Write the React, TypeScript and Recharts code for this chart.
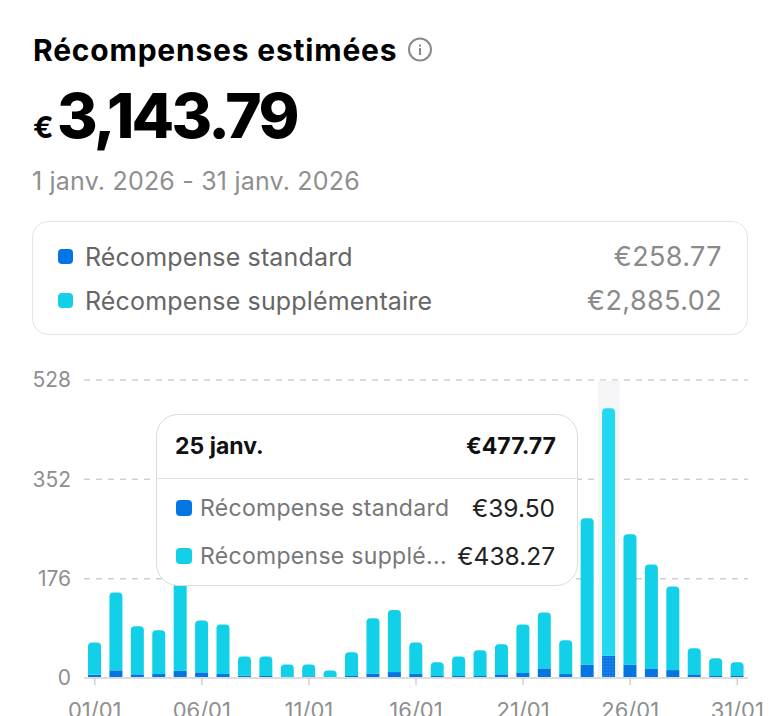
import React from "react";
import { BarChart, Bar, XAxis, YAxis, CartesianGrid, Tooltip, Cell } from "recharts";

const days = ["01/01","02/01","03/01","04/01","05/01","06/01","07/01","08/01","09/01","10/01","11/01","12/01","13/01","14/01","15/01","16/01","17/01","18/01","19/01","20/01","21/01","22/01","23/01","24/01","25/01","26/01","27/01","28/01","29/01","30/01","31/01"];
const standardValues = [6,13.6,6.5,7,13,10,7,4,3.5,0.5,3,0.5,3.5,8,10.5,7,3.5,3.5,3.5,6.5,9,17,7,23.6,39.5,23.6,17,14,6.5,3.5,3.5];
const extraValues = [57,138,85,77.5,167,92,88,34,34.5,23.5,21,13,42,98,110,56,24.5,34.5,45.5,53.5,86,99,60,259.4,438.27,231,184,148,46,31.5,24.5];
const xTicks = ["01/01","06/01","11/01","16/01","21/01","26/01","31/01"];
const yTicks = [0,176,352,528];
const standardName = "Récompense standard";
const extraName = "Récompense supplémentaire";
const extraShortName = "Récompense supplé...";
const standardTotal = "€258.77";
const extraTotal = "€2,885.02";
const ACTIVE = 24;

const data = days.map((day, i) => ({ day, standard: standardValues[i], extra: extraValues[i] }));
const FONT = "Inter, sans-serif";
const BLUE = "#0275E3";
const TEAL = "#11D0E8";

const abs = (left: number, top: number, extra: React.CSSProperties = {}): React.CSSProperties => ({
  position: "absolute", left, top, whiteSpace: "nowrap", ...extra,
});

function TipContent({ active, payload }: any) {
  if (!active || !payload || !payload.length) return null;
  const row = payload[0].payload;
  const money = (v: number) => "€" + v.toFixed(2);
  const rowStyle = (top: number): React.CSSProperties => abs(0, top, { width: 422, height: 30 });
  const swatch = (color: string): React.CSSProperties => abs(19, 7, { width: 16, height: 16, borderRadius: 4, background: color });
  const name: React.CSSProperties = abs(43, 0, { fontSize: 23, letterSpacing: 0.3, lineHeight: "30px", color: "#777" });
  const val: React.CSSProperties = { position: "absolute", top: 0, right: 24, whiteSpace: "nowrap", fontSize: 24.5, lineHeight: "30px", color: "#222" };
  const head: React.CSSProperties = { fontSize: 23, fontWeight: 700, lineHeight: "30px", color: "#111" };
  return (
    <div style={{ position: "relative", width: 422, height: 172, boxSizing: "border-box", background: "#fff", border: "1px solid #dcdcdc", borderRadius: 22, fontFamily: FONT }}>
      <div style={abs(18, 16, head)}>{Number(row.day.slice(0, 2))} janv.</div>
      <div style={{ position: "absolute", top: 16, right: 21, whiteSpace: "nowrap", ...head }}>{money(row.standard + row.extra)}</div>
      <div style={abs(0, 63, { width: 420, height: 1, background: "#e2e2e2" })} />
      <div style={rowStyle(78)}><div style={swatch(BLUE)} /><div style={name}>{standardName}</div><div style={val}>{money(row.standard)}</div></div>
      <div style={rowStyle(126)}><div style={swatch(TEAL)} /><div style={name}>{extraShortName}</div><div style={val}>{money(row.extra)}</div></div>
    </div>
  );
}

export default function App() {
  const legendValue: React.CSSProperties = { position: "absolute", right: 58, whiteSpace: "nowrap", fontSize: 27, letterSpacing: 0.4, lineHeight: "32px", color: "#8a8a8a" };
  const legendName: React.CSSProperties = { fontSize: 25, letterSpacing: 0.15, lineHeight: "32px", color: "#666" };
  return (
    <div style={{ position: "absolute", left: 0, top: 0, width: 780, height: 716, overflow: "hidden", background: "#fff", fontFamily: FONT }}>
      <div style={abs(33, 32, { fontSize: 30, fontWeight: 700, letterSpacing: 0.8, lineHeight: "36px", color: "#000" })}>Récompenses estimées</div>
      <svg style={abs(407, 37)} width={26} height={26} viewBox="0 0 26 26">
        <circle cx={13} cy={12.5} r={11} fill="none" stroke="#8a8a8a" strokeWidth={2} />
        <rect x={12} y={11} width={2} height={7} fill="#8a8a8a" />
        <rect x={12} y={7.5} width={2} height={2} fill="#8a8a8a" />
      </svg>
      <div style={abs(33, 109, { fontSize: 30, fontWeight: 700, lineHeight: "36px", color: "#000" })}>€</div>
      <div style={abs(57, 78, { fontSize: 62, fontWeight: 800, lineHeight: "76px", letterSpacing: -2.8, color: "#000" })}>3,143.79</div>
      <div style={abs(32, 165, { fontSize: 25, letterSpacing: 0.2, lineHeight: "32px", color: "#8f8f8f" })}>1 janv. 2026 - 31 janv. 2026</div>

      <div style={abs(32, 221, { width: 716, height: 114, boxSizing: "border-box", border: "1px solid #e4e4e4", borderRadius: 16 })} />
      <div style={abs(58, 249, { width: 15, height: 15, borderRadius: 4, background: BLUE })} />
      <div style={abs(85, 241, legendName)}>{standardName}</div>
      <div style={{ ...legendValue, top: 241 }}>{standardTotal}</div>
      <div style={abs(58, 293, { width: 15, height: 15, borderRadius: 4, background: TEAL })} />
      <div style={abs(85, 285, legendName)}>{extraName}</div>
      <div style={{ ...legendValue, top: 285 }}>{extraTotal}</div>

      <div style={abs(0, 360)}>
        <BarChart width={780} height={356} data={data} margin={{ top: 20, right: 32, bottom: 0, left: 0 }} barCategoryGap={0}>
          <defs>
            <pattern id="activeDots" width={3} height={3} patternUnits="userSpaceOnUse">
              <rect width={3} height={3} fill="#0A74E0" />
              <rect width={1.5} height={1.5} fill="#1E8CF0" />
            </pattern>
          </defs>
          <CartesianGrid vertical={false} stroke="#cfcfcf" strokeWidth={1.5} strokeDasharray="6 6" />
          <XAxis dataKey="day" ticks={xTicks} interval={0} height={38} tickSize={7} tickMargin={17}
            axisLine={{ stroke: "#dcdcdc", strokeWidth: 2 }} tickLine={{ stroke: "#d0d0d0", strokeWidth: 1.5 }}
            tick={{ fontSize: 22, fill: "#8f8f8f", fontFamily: FONT }} />
          <YAxis domain={[0, 528]} ticks={yTicks} width={84} tickLine={false} axisLine={false} tickSize={0} tickMargin={13}
            tick={{ fontSize: 21, fill: "#8f8f8f", fontFamily: FONT }} />
          <Tooltip content={<TipContent />} defaultIndex={ACTIVE} active position={{ x: 156, y: 54 }}
            cursor={{ fill: "#F4F5F7" }} isAnimationActive={false} allowEscapeViewBox={{ x: true, y: true }}
            wrapperStyle={{ outline: "none", zIndex: 5 }} />
          <Bar dataKey="standard" name={standardName} stackId="a" barSize={13} fill={BLUE} isAnimationActive={false} activeBar={false}>
            {data.map((d, i) => <Cell key={d.day} fill={i === ACTIVE ? "url(#activeDots)" : BLUE} />)}
          </Bar>
          <Bar dataKey="extra" name={extraName} stackId="a" barSize={13} fill={TEAL} radius={[4, 4, 0, 0]} isAnimationActive={false} activeBar={false}>
            {data.map((d, i) => <Cell key={d.day} fill={i === ACTIVE ? "#22D9F0" : TEAL} />)}
          </Bar>
        </BarChart>
      </div>
    </div>
  );
}
